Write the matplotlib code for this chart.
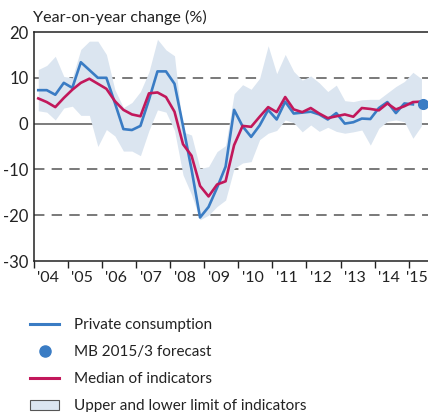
import matplotlib
matplotlib.use("Agg")
import matplotlib.pyplot as plt
from matplotlib.lines import Line2D
from matplotlib.patches import Patch

plt.rcParams['font.family'] = ['Lato', 'DejaVu Sans']
plt.rcParams['lines.scale_dashes'] = False

# quarterly data, 2004 Q1 - 2015 Q2
private_consumption = [7.3, 7.3, 6.3, 8.9,
                       7.8, 13.4, 11.7, 10.0,
                       10.0, 4.5, -1.2, -1.4,
                       -0.5, 5.2, 11.4, 11.4,
                       8.7, -0.5, -10.0, -20.5,
                       -18.2, -14.0, -9.4, 3.0,
                       -0.6, -2.9, -0.4, 3.0,
                       0.9, 4.8, 2.2, 2.4,
                       2.6, 2.0, 0.9, 2.3,
                       0.0, 0.3, 1.1, 1.0,
                       3.4, 4.7, 2.3, 4.4,
                       4.2]
forecast = 4.2
median = [5.5, 4.7, 3.6, 5.6,
          7.4, 8.9, 9.8, 8.7,
          7.6, 4.9, 3.0, 2.0,
          1.6, 6.6, 6.8, 5.8,
          2.6, -4.5, -7.0, -13.6,
          -15.9, -13.3, -12.6, -4.7,
          -0.5, -0.7, 1.5, 3.6,
          2.5, 5.8, 3.1, 2.5,
          3.4, 2.2, 1.2, 1.6,
          2.0, 1.5, 3.4, 3.2,
          2.9, 4.4, 3.1, 3.8,
          4.7, 4.8]
upper = [11.8, 12.7, 14.7, 10.3,
         10.0, 16.2, 18.0, 18.0,
         15.1, 7.4, 3.5, 4.6,
         7.0, 11.3, 18.4, 16.1,
         14.8, -1.8, -2.5, -9.8,
         -9.4, -6.1, -4.8, 6.5,
         8.5, 7.5, 9.9, 17.0,
         10.9, 15.1, 11.4, 9.5,
         10.4, 8.9, 7.0, 8.4,
         5.0, 4.8, 5.2, 5.3,
         5.3, 6.7, 8.1, 9.2,
         11.2, 9.8]
lower = [2.8, 2.5, 0.8, 3.4,
         3.8, 1.8, 1.8, -5.0,
         -1.3, -2.7, -6.0, -6.0,
         -7.0, -1.5, 3.0, 2.5,
         -1.5, -11.2, -15.5, -21.0,
         -20.0, -18.1, -16.7, -9.8,
         -8.6, -8.3, -3.5, -2.1,
         -1.5, 0.8, 0.2, -1.8,
         -0.3, -1.7, -0.8, -1.7,
         -2.1, -1.8, -1.4, -4.7,
         -1.0, 0.5, 0.8, 0.4,
         -3.2, -0.5]
years = list(range(2004, 2016))
year_labels = ["'04", "'05", "'06", "'07", "'08", "'09", "'10", "'11", "'12", "'13", "'14", "'15"]

blue = '#3a7cc4'
red = '#c2185b'
band = '#dbe5f0'

# x position of each quarter (middle of the quarter)
qx = [2004 + 0.125 + 0.25 * i for i in range(len(median))]

fig = plt.figure(figsize=(4.28, 4.12), dpi=100)
ax = fig.add_axes([34 / 428, 1 - 261 / 412, 394 / 428, 229 / 412])

ax.fill_between(qx, lower, upper, color=band, lw=0, zorder=1)

# grid
for v in [10, -10, -20]:
    ax.axhline(v, color='#555555', lw=1.1, ls=(0, (7.5, 5.2)), zorder=0)
ax.axhline(0, color='#666666', lw=1.2, zorder=0)

ax.plot(qx[:len(private_consumption)], private_consumption, color=blue, lw=1.9, zorder=3)
ax.plot(qx, median, color=red, lw=1.9, zorder=4)
ax.plot([qx[len(private_consumption)] + 0.05], [forecast], 'o', color=blue, ms=7,
        zorder=5, clip_on=False)

ax.set_xlim(2004, 2004 + 394 / 34.06)
ax.set_ylim(-30, 20)
ax.set_yticks([20, 10, 0, -10, -20, -30])
ax.set_yticklabels(['20', '10', '0', '-10', '-20', '-30'])
ax.tick_params(axis='y', length=0, pad=4, labelsize=12, colors='#222222')

ax.set_xticks(years)
ax.set_xticklabels([])
ax.tick_params(axis='x', which='major', length=5, width=1, direction='out', color='#222222')
label_pos = [y + 0.42 for y in years[:-1]] + [2015.25]
ax.set_xticks(label_pos, minor=True)
ax.set_xticklabels(year_labels, minor=True)
ax.tick_params(axis='x', which='minor', length=0, pad=7, labelsize=11.5, colors='#222222')

for s in ['left', 'bottom', 'top']:
    ax.spines[s].set_color('#222222')
    ax.spines[s].set_linewidth(1.1)
ax.spines['right'].set_visible(False)

fig.text(33 / 428, 1 - 17 / 412, 'Year-on-year change (%)', fontsize=11.6,
         va='center', ha='left', color='#222222')

handles = [Line2D([], [], color=blue, lw=2.2),
           Line2D([], [], color=blue, marker='o', ls='none', ms=8),
           Line2D([], [], color=red, lw=2.2),
           Patch(facecolor=band, edgecolor='#555555', lw=0.8)]
labels = ['Private consumption', 'MB 2015/3 forecast', 'Median of indicators',
          'Upper and lower limit of indicators']
fig.legend(handles, labels, loc='upper left', bbox_to_anchor=(30 / 428, 1 - 318 / 412),
           frameon=False, fontsize=11, handlelength=1.9, handletextpad=1.0,
           labelspacing=0.86, borderpad=0, borderaxespad=0, labelcolor='#222222')

fig.savefig('out.png', dpi=100)
